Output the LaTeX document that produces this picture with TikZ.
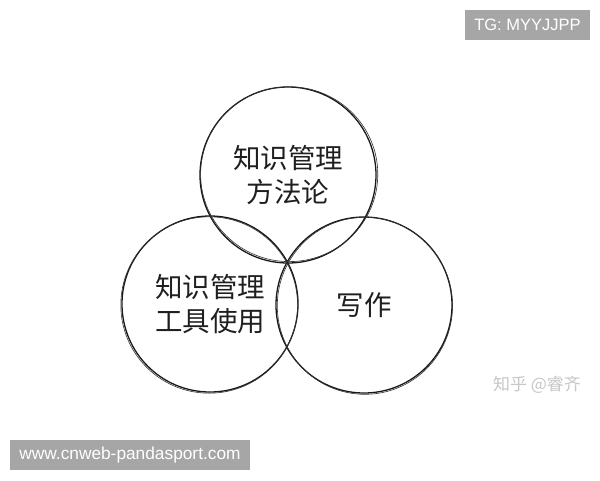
\documentclass[tikz,border=0pt]{standalone}
\usepackage{fontspec}
\newfontfamily\cjk{Noto Sans CJK SC}
\setsansfont{Liberation Sans}
\begin{document}
\begin{tikzpicture}[x=1pt,y=-1pt,
  setcircle/.style={circle,draw=black!90,line width=1.3pt,minimum size=176pt,inner sep=0pt,
    align=center,font=\cjk\fontsize{27.5}{34}\selectfont,text=black!88},
  sketch/.style={draw=black!80,line width=0.6pt},
  tagbox/.style={fill=black!35,text=white,inner sep=0pt,font=\sffamily\fontsize{16.5}{18}\selectfont},
  wmark/.style={text=black!22,font=\cjk\fontsize{17}{19}\selectfont}]
\useasboundingbox (0,0) rectangle (600,480);
\fill[white] (0,0) rectangle (600,480);
% circles with labels
\node[setcircle] (top) at (288,175) {知识管理\\方法论};
\node[setcircle] (left) at (210,304) {知识管理\\工具使用};
\node[setcircle] (right) at (364,305) {写作};
% sketchy second strokes
\draw[sketch] (top.center) ++(1.2,-0.8) ellipse [x radius=88.6pt, y radius=87.4pt];
\draw[sketch] (left.center) ++(-0.8,1.0) ellipse [x radius=88.4pt, y radius=88.2pt];
\draw[sketch] (right.center) ++(0.9,0.8) ellipse [x radius=87.6pt, y radius=88.5pt];
% tag boxes
\node[tagbox,minimum width=125pt,minimum height=30pt] (tg) at (527.5,25) {TG: MYYJJPP};
\node[tagbox,minimum width=240pt,minimum height=30pt,font=\sffamily\fontsize{17.3}{19}\selectfont] (url) at (130,455) {www.cnweb-pandasport.com};
% watermark
\node[wmark] (wm) at (537,385) {知乎 @睿齐};
\end{tikzpicture}
\end{document}
